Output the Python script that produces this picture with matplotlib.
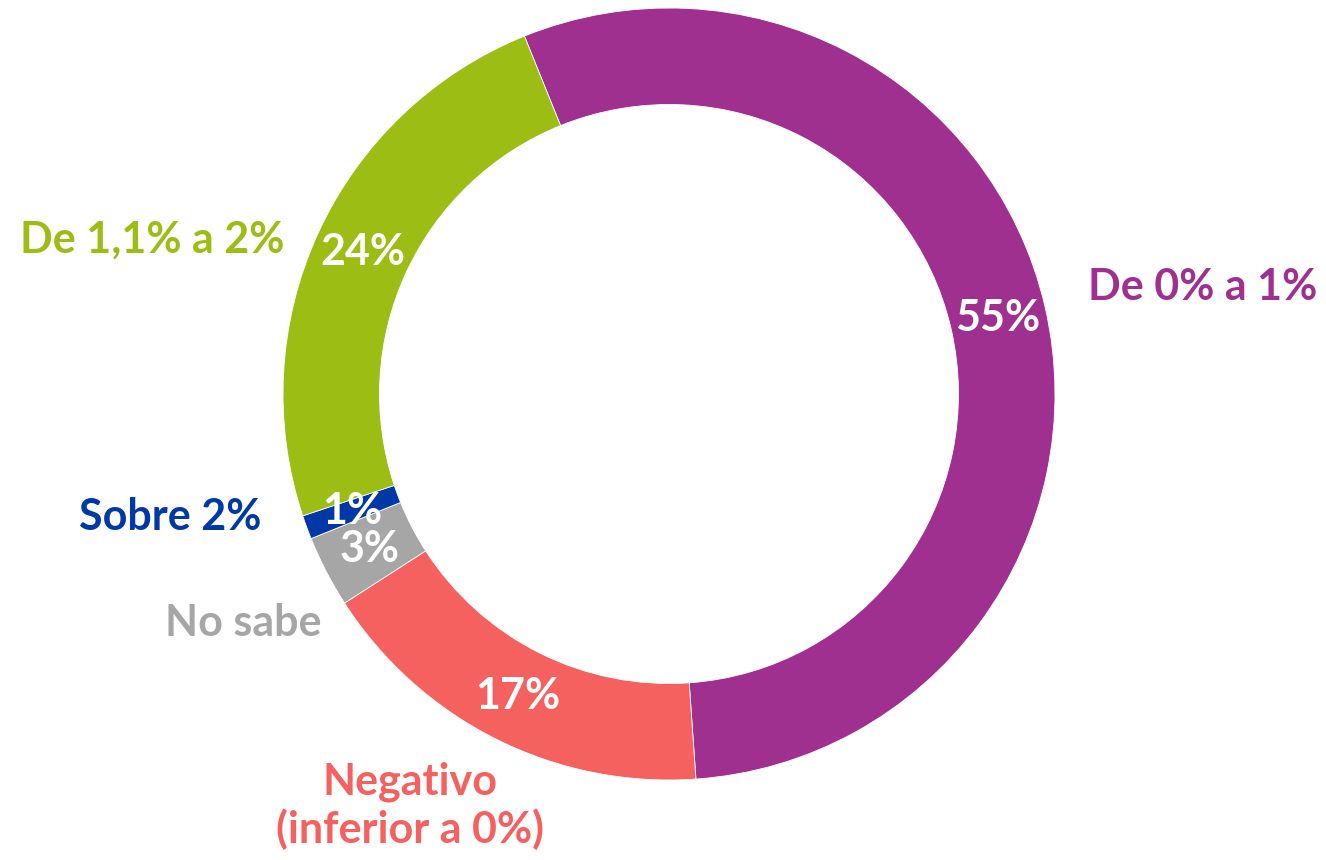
import numpy as np
from matplotlib import pyplot as plt

# Donut of expected inflation answers
labels = ["De 0% a 1%", "Negativo\n(inferior a 0%)", "No sabe", "Sobre 2%", "De 1,1% a 2%"]
values = [55, 17, 3, 1, 24]
colors = ["#A03090", "#F4615E", "#A6A6A6", "#0039A6", "#9CBD14"]

W, H = 1326, 860
cx, cy, R = 669, 394, 386

fig = plt.figure(figsize=(W / 100, H / 100), dpi=100)
ax = fig.add_axes([0, 0, 1, 1])

wedges, _ = ax.pie(values, colors=colors, startangle=112, counterclock=False,
                   radius=1.0, wedgeprops=dict(width=0.25, edgecolor="white", linewidth=0.6))

font = ["Lato", "DejaVu Sans"]

#Percent labels in the middle of the ring
for w, v in zip(wedges, values):
    ang = np.deg2rad((w.theta1 + w.theta2) / 2)
    r = 1 - 0.25 / 2
    ax.text(r * np.cos(ang), r * np.sin(ang), f"{v}%", ha="center", va="center",
            color="white", fontsize=31, fontweight="bold", family=font)

#Category labels outside, positions in pixels
def px(x, y):
    return (x - cx) / R, (cy - y) / R

label_pos = [(1203, 287), (410, 806), (243, 623), (170, 517), (152, 240)]
for lab, col, (x, y) in zip(labels, colors, label_pos):
    tx, ty = px(x, y)
    ax.text(tx, ty, lab, ha="center", va="center", color=col, fontsize=31,
            fontweight="bold", family=font, linespacing=1.2)

ax.set_xlim(-cx / R, (W - cx) / R)
ax.set_ylim(-(H - cy) / R, cy / R)
ax.set_aspect("auto")
ax.axis("off")

fig.savefig("out.png", dpi=100)
